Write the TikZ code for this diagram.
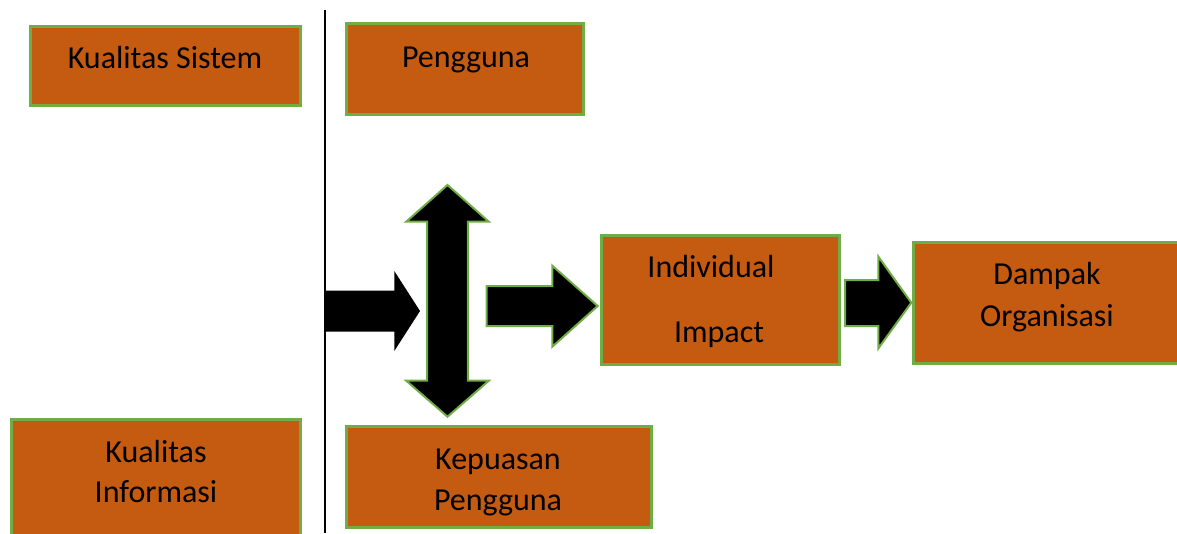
\documentclass[tikz,border=0pt]{standalone}
\usepackage{fontspec}
\setmainfont{Carlito}
\usepackage{tikz}
\usetikzlibrary{positioning}

\definecolor{boxorange}{HTML}{C55A11}
\definecolor{boxgreen}{HTML}{70AD47}

\begin{document}
\begin{tikzpicture}[x=1pt,y=-1pt,
	box/.style={draw=boxgreen, line width=3pt, fill=boxorange, inner sep=0pt},
	txt/.style={anchor=base, inner sep=0pt, font=\fontsize{32}{40}\selectfont},
	blockarrow/.style={fill=black, draw=boxgreen, line width=2pt, line join=miter}]
	\useasboundingbox (0,0) rectangle (1177,533);

	% boxes
	\node (sistem) [box, minimum width=270, minimum height=79] at (165,65.5) {};
	\node (pengguna) [box, minimum width=237, minimum height=91] at (464.5,68.5) {};
	\node (informasi) [box, minimum width=289, minimum height=140] at (155.5,489) {};
	\node (kepuasan) [box, minimum width=305, minimum height=101] at (498.5,477) {};
	\node (individual) [box, minimum width=238, minimum height=129] at (720,300) {};
	\node (dampak) [box, minimum width=300, minimum height=121] at (1063,302.5) {};

	% texts
	\node (tA) [txt] at (165,68) {Kualitas Sistem};
	\node (tB) [txt] at (466,67) {Pengguna};
	\node (tC) [txt] at (156,462) {Kualitas};
	\node (tD) [txt] at (156,502) {Informasi};
	\node (tE) [txt] at (498,469) {Kepuasan};
	\node (tF) [txt] at (498,510) {Pengguna};
	\node (tG) [txt] at (711,277) {Individual};
	\node (tH) [txt] at (719,342) {Impact};
	\node (tI) [txt] at (1047,284) {Dampak};
	\node (tJ) [txt] at (1047,326) {Organisasi};

	% divider
	\draw [line width=1.3pt] (325,10) -- (325,533);

	% arrows
	\fill [black] (325,290.7) -- (394.3,290.7) -- (394.3,271) -- (420,311)
		-- (394.3,351) -- (394.3,331.7) -- (325,331.7) -- cycle;
	\filldraw [blockarrow] (447.5,185) -- (488.8,221.7) -- (467.8,221.7) -- (467.8,380.7)
		-- (488.8,380.7) -- (447.5,416.7) -- (406.2,380.7) -- (427.2,380.7)
		-- (427.2,221.7) -- (406.2,221.7) -- cycle;
	\filldraw [blockarrow] (486.7,286) -- (552.3,286) -- (552.3,265.7) -- (597.7,306)
		-- (552.3,346.7) -- (552.3,326) -- (486.7,326) -- cycle;
	\filldraw [blockarrow] (845,280) -- (878.4,280) -- (878.4,256.7) -- (911.3,302.7)
		-- (878.4,348.3) -- (878.4,326) -- (845,326) -- cycle;

\end{tikzpicture}
\end{document}
